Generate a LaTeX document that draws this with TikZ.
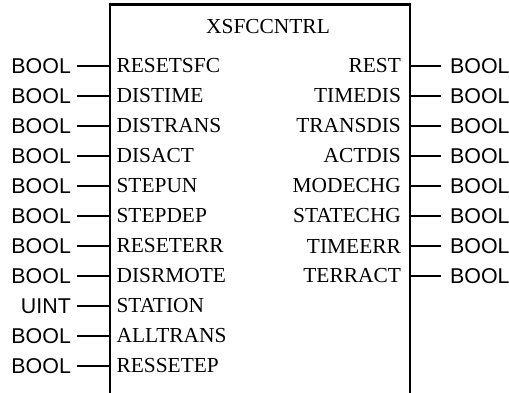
\documentclass[tikz,border=0pt]{standalone}
\usepackage{fontspec}
\setmainfont{Liberation Serif}
\newfontfamily\typefont{Liberation Sans}
\begin{document}
\begin{tikzpicture}[x=1pt,y=-1pt,line width=2.2pt,
  pinname/.style={font=\fontsize{21.4}{24}\selectfont, inner ysep=0pt},
  typename/.style={font=\typefont\fontsize{21.4}{24}\selectfont, inner ysep=0pt},
  blocktitle/.style={font=\fontsize{21.4}{24}\selectfont, inner sep=0pt}]
\useasboundingbox (0,0) rectangle (509,392);

% function block outline (open towards the bottom)
\coordinate (blkBL) at (110,393);
\coordinate (blkBR) at (410,393);
\draw (blkBL) |- (410,4.5) -- (blkBR);
\node[blocktitle] (title) at (268,27) {XSFCCNTRL};

% inputs
\foreach \pname/\ptype [count=\i] in {RESETSFC/BOOL,DISTIME/BOOL,DISTRANS/BOOL,
    DISACT/BOOL,STEPUN/BOOL,STEPDEP/BOOL,RESETERR/BOOL,DISRMOTE/BOOL,
    STATION/UINT,ALLTRANS/BOOL,RESSETEP/BOOL}{
  \pgfmathsetmacro\yy{66+30*(\i-1)}
  \coordinate (inL\i) at (110,\yy);
  \node[pinname, anchor=west, inner xsep=5.5pt] (pL\i) at (inL\i) {\pname};
  \node[typename, anchor=east, inner xsep=5pt] (tL\i) at (77,\yy) {\ptype};
  \draw (tL\i.east) -- (inL\i);
}

% outputs
\foreach \pname/\ptype [count=\i] in {REST/BOOL,TIMEDIS/BOOL,TRANSDIS/BOOL,
    ACTDIS/BOOL,MODECHG/BOOL,STATECHG/BOOL,TIMEERR/BOOL,TERRACT/BOOL}{
  \pgfmathsetmacro\yy{66+30*(\i-1)}
  \coordinate (outR\i) at (410,\yy);
  \node[pinname, anchor=east, inner xsep=8pt] (pR\i) at (outR\i) {\pname};
  \node[typename, anchor=west, inner xsep=8pt] (tR\i) at (441,\yy) {\ptype};
  \draw (outR\i) -- (tR\i.west);
}
\end{tikzpicture}
\end{document}
